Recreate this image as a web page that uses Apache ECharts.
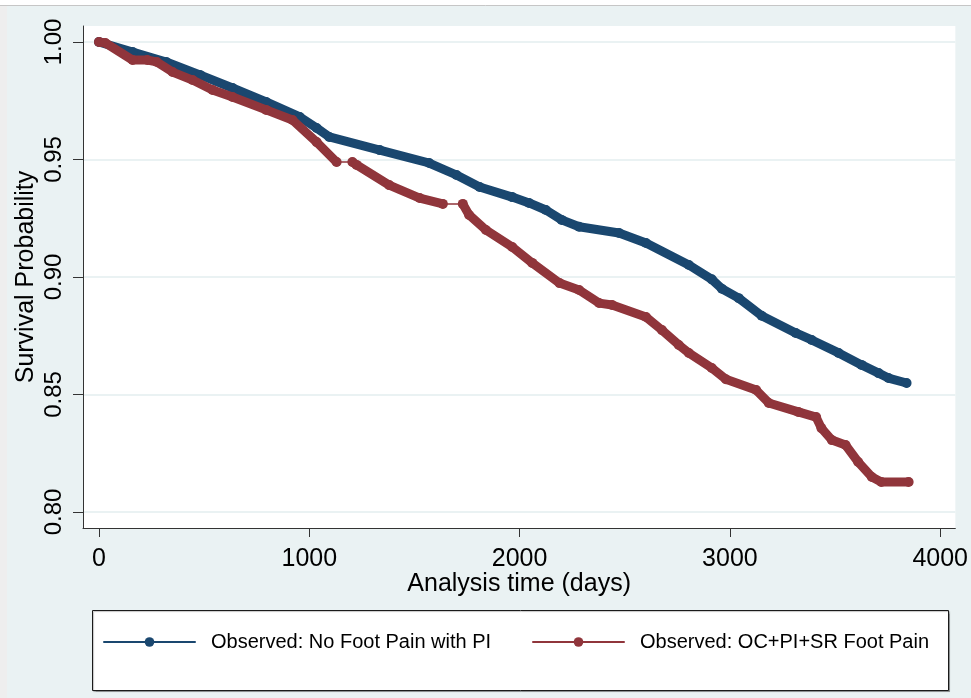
<!DOCTYPE html>
<html><head><meta charset="utf-8">
<script src="https://cdn.jsdelivr.net/npm/echarts@6/dist/echarts.min.js"></script>
<style>html,body{margin:0;padding:0;background:#fff}#c{width:971px;height:698px}</style>
</head><body><div id="c"></div>
<script>
// ---- data ----
const blueTime = [0, 160, 320, 480, 635, 795, 955, 1035, 1095, 1335, 1570, 1700, 1810, 1965, 2045, 2125, 2200, 2283, 2473, 2601, 2805, 2914, 2962, 3042, 3151, 3313, 3389, 3517, 3626, 3707, 3754, 3840];
const blueSurv = [1.0000, 0.9957, 0.9915, 0.9860, 0.9804, 0.9745, 0.9681, 0.9634, 0.9596, 0.9540, 0.9485, 0.9434, 0.9383, 0.9340, 0.9315, 0.9285, 0.9243, 0.9214, 0.9187, 0.9145, 0.9051, 0.8990, 0.8950, 0.8910, 0.8835, 0.8762, 0.8732, 0.8677, 0.8626, 0.8591, 0.8570, 0.8549];
const redTime = [0, 30, 160, 230, 275, 350, 445, 540, 635, 795, 920, 1035, 1130, 1205, 1225, 1380, 1525, 1635, 1730, 1760, 1840, 1965, 2060, 2190, 2283, 2378, 2440, 2601, 2677, 2757, 2805, 2914, 2981, 3125, 3185, 3325, 3410, 3435, 3485, 3550, 3610, 3675, 3720, 3850];
const redSurv = [1.0000, 0.9996, 0.9923, 0.9923, 0.9915, 0.9872, 0.9838, 0.9796, 0.9766, 0.9711, 0.9668, 0.9574, 0.9489, 0.9489, 0.9477, 0.9391, 0.9336, 0.9311, 0.9311, 0.9264, 0.9200, 0.9128, 0.9060, 0.8974, 0.8945, 0.8889, 0.8881, 0.8830, 0.8774, 0.8711, 0.8677, 0.8613, 0.8565, 0.8519, 0.8464, 0.8426, 0.8404, 0.8357, 0.8306, 0.8285, 0.8213, 0.8149, 0.8128, 0.8128];
const redGapStarts = [1130, 1635];   // stretches with no events (thin connector only)
const xTicks = [0, 1000, 2000, 3000, 4000];
const yTicks = [0.80, 0.85, 0.90, 0.95, 1.00];
const seriesNames = ['Observed: No Foot Pain with PI', 'Observed: OC+PI+SR Foot Pain'];
const xTitle = 'Analysis time (days)';
const yTitle = 'Survival Probability';

// ---- build ----
const FONT = "'Liberation Sans', Arial, sans-serif";
const BLUE = '#1a476f', RED = '#90353b';
const blueData = blueTime.map((t, i) => [t, blueSurv[i]]);
const redFull = redTime.map((t, i) => [t, redSurv[i]]);
const redThick = [];
redTime.forEach((t, i) => {
  redThick.push([t, redSurv[i]]);
  if (redGapStarts.includes(t)) redThick.push([t, null]);
});

const chart = echarts.init(document.getElementById('c'), null, {renderer: 'canvas'});
const legendBase = {
  orient: 'horizontal', top: 632, itemWidth: 91, itemHeight: 12, padding: 0,
  selectedMode: false,
  textStyle: {fontFamily: FONT, fontSize: 20, color: '#000', lineHeight: 20, padding: [0, 0, 0, 11]},
  lineStyle: {width: 2}
};
chart.setOption({
  animation: false,
  backgroundColor: '#eaf2f3',
  textStyle: {fontFamily: FONT},
  graphic: [
    {type: 'rect', shape: {x: 0, y: 0, width: 971, height: 5}, style: {fill: '#ffffff'}, silent: true},
    {type: 'rect', shape: {x: 0, y: 5, width: 7, height: 693}, style: {fill: '#eeeeee'}, silent: true},
    {type: 'line', shape: {x1: 0, y1: 5.5, x2: 971, y2: 5.5}, style: {stroke: '#c6c6c6', lineWidth: 1}, silent: true},
    {type: 'rect', shape: {x: 92.5, y: 610.5, width: 856, height: 80}, style: {fill: '#ffffff', stroke: '#1a1a1a', lineWidth: 1, shadowColor: 'rgba(0,0,0,0.25)', shadowOffsetX: 1, shadowOffsetY: 1, shadowBlur: 1}, silent: true}
  ],
  grid: {left: 83, top: 26, right: 14, bottom: 170, show: true, backgroundColor: '#ffffff', borderWidth: 0, containLabel: false},
  xAxis: {
    type: 'value', min: -76, max: 4072,
    axisLine: {show: true, onZero: false, lineStyle: {color: '#333', width: 1}},
    axisTick: {show: true, length: 9, customValues: xTicks, lineStyle: {color: '#333'}},
    axisLabel: {customValues: xTicks, fontSize: 25, margin: 19, color: '#000', fontFamily: FONT,
      formatter: v => String(Math.round(v))},
    splitLine: {show: false},
    name: xTitle, nameLocation: 'middle', nameGap: 44, nameMoveOverlap: false,
    nameTextStyle: {fontSize: 25, color: '#000', fontFamily: FONT}
  },
  yAxis: {
    type: 'value', min: 0.7932, max: 1.0068,
    axisLine: {show: true, onZero: false, lineStyle: {color: '#333', width: 1}},
    axisTick: {show: true, length: 10, customValues: yTicks, lineStyle: {color: '#333'}},
    axisLabel: {customValues: yTicks, rotate: 90, fontSize: 24, margin: 17, color: '#000', fontFamily: FONT,
      formatter: v => Number(v).toFixed(2)},
    splitLine: {show: true, lineStyle: {color: '#eaf2f3', width: 2}},
    name: yTitle, nameLocation: 'middle', nameRotate: 90, nameGap: 44, nameMoveOverlap: false,
    nameTextStyle: {fontSize: 25, color: '#000', fontFamily: FONT}
  },
  legend: [
    Object.assign({}, legendBase, {left: 103, data: [seriesNames[0]]}),
    Object.assign({}, legendBase, {left: 532, data: [seriesNames[1]]})
  ],
  series: [
    {name: seriesNames[0], type: 'line', data: blueData, color: BLUE,
      symbol: 'circle', symbolSize: 10, showSymbol: true, itemStyle: {color: BLUE},
      lineStyle: {color: BLUE, width: 9, cap: 'round', join: 'round'}, z: 3},
    {name: 'redConnector', type: 'line', data: redFull, color: RED, showSymbol: false,
      lineStyle: {color: RED, width: 1.5}, z: 2},
    {name: seriesNames[1], type: 'line', data: redThick, color: RED, connectNulls: false,
      symbol: 'circle', symbolSize: 10, showSymbol: true, itemStyle: {color: RED},
      lineStyle: {color: RED, width: 9, cap: 'round', join: 'round'}, z: 4}
  ]
});
</script>
</body></html>
